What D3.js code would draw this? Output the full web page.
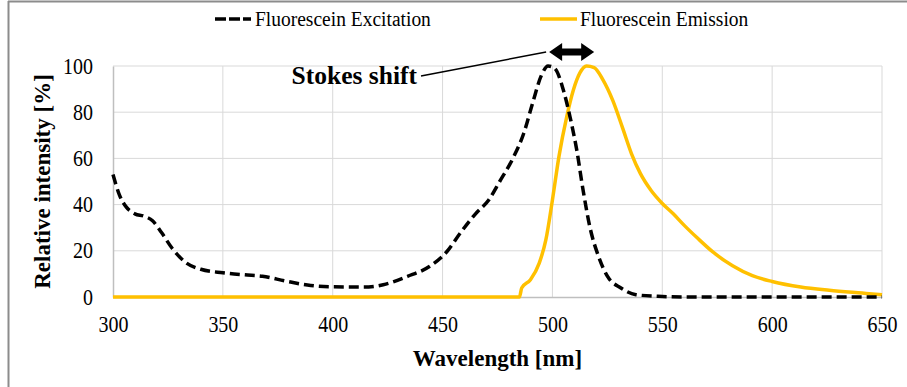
<!DOCTYPE html>
<html>
<head>
<meta charset="utf-8">
<script src="https://cdn.jsdelivr.net/npm/d3@7"></script>
<style>
  body { margin: 0; background: #fff; }
  text { font-family: "Liberation Serif", "Times New Roman", serif; fill: #000; }
</style>
</head>
<body>
<svg id="chart" width="907" height="387"></svg>
<script>
// wavelength [nm] / relative intensity [%]
var excitation = [
  [300, 53], [303, 44], [306, 39], [310, 36], [314, 35], [318, 33], [322, 28],
  [327, 21], [333, 15], [340, 12], [350, 10.5], [360, 9.6], [368, 9], [379, 6.8],
  [390, 5], [400, 4.4], [414, 4.3], [423, 5.3], [434, 8.9], [444, 13.2], [452, 19.7],
  [458, 27.6], [465, 36], [471, 42], [476, 50], [482, 60], [487, 71], [491, 84],
  [495, 96], [498, 100], [501, 99], [505, 89.5], [508, 78], [511, 64], [514, 46],
  [517, 30.5], [521, 17.5], [525, 9], [531, 4], [538, 1], [548, 0.3], [560, 0], [650, 0]
];
var emission = [
  [300, 0], [485, 0], [486, 3.9], [490, 7.5], [494, 14.7], [497, 24.7], [500, 42],
  [503, 61], [506.5, 78], [509.5, 89.5], [512.5, 97], [515.5, 100], [519, 99.3],
  [523, 94], [527.5, 85], [532, 73], [536, 62], [540, 53.5], [545, 46], [550, 40.5],
  [555, 36], [560, 31], [566, 25.5], [573, 19.5], [582, 13.5], [591, 9.2], [600, 6.7],
  [613, 4.3], [626, 2.9], [641, 1.7], [650, 1]
];
var xTicks = [300, 350, 400, 450, 500, 550, 600, 650];
var yTicks = [0, 20, 40, 60, 80, 100];
var seriesNames = ["Fluorescein Excitation", "Fluorescein Emission"];
var stokesPeaks = [498.5, 519];

var svg = d3.select("#chart");
var margin = {left: 113, right: 25, top: 66, bottom: 90};
var width = 907, height = 387;
var stretch = 1.12; // text in the picture is a bit taller than wide

var x = d3.scaleLinear().domain([300, 650]).range([margin.left, width - margin.right]);
var y = d3.scaleLinear().domain([0, 100]).range([height - margin.bottom, margin.top]);

// text placed at (tx, ty) and stretched vertically around its baseline
function tallText(g, tx, ty, size, str) {
    return g.append("text")
        .attr("transform", "translate(" + tx + "," + ty + ") scale(1," + stretch + ")")
        .attr("font-size", size)
        .text(str);
}

// outer frame (top and left only)
svg.append("line").attr("x1", 8).attr("x2", width).attr("y1", 1.5).attr("y2", 1.5)
    .attr("stroke", "#8c8c8c").attr("stroke-width", 2);
svg.append("line").attr("x1", 8.5).attr("x2", 8.5).attr("y1", 1).attr("y2", height)
    .attr("stroke", "#8c8c8c").attr("stroke-width", 2);

// grid
svg.append("g").selectAll("line").data(xTicks.slice(1)).join("line")
    .attr("x1", d => x(d)).attr("x2", d => x(d))
    .attr("y1", y(0)).attr("y2", y(100))
    .attr("stroke", "#d9d9d9").attr("stroke-width", 1);
svg.append("g").selectAll("line").data(yTicks.slice(1)).join("line")
    .attr("x1", x(300)).attr("x2", x(650))
    .attr("y1", d => y(d)).attr("y2", d => y(d))
    .attr("stroke", "#d9d9d9").attr("stroke-width", 1);

// axes
var xAxis = svg.append("g").attr("transform", "translate(0," + y(0) + ")")
    .call(d3.axisBottom(x).tickValues(xTicks).tickSize(0).tickPadding(17));
var yAxis = svg.append("g").attr("transform", "translate(" + x(300) + ",0)")
    .call(d3.axisLeft(y).tickValues(yTicks).tickSize(0).tickPadding(20));
[xAxis, yAxis].forEach(function (g) {
    g.select(".domain").attr("stroke", "#bfbfbf").attr("stroke-width", 1.5);
    g.selectAll("text").attr("font-size", 20).attr("fill", "#000")
        .attr("transform", "scale(1," + stretch + ")");
});

// axis titles
svg.append("text").attr("x", (x(300) + x(650)) / 2).attr("y", 366)
    .attr("text-anchor", "middle").attr("font-weight", "bold").attr("font-size", 23)
    .text("Wavelength [nm]");
svg.append("text").attr("transform", "translate(50," + (y(50)) + ") rotate(-90)")
    .attr("text-anchor", "middle").attr("font-weight", "bold").attr("font-size", 23)
    .text("Relative intensity [%]");

// curves
var line = d3.line().x(d => x(d[0])).y(d => y(d[1])).curve(d3.curveMonotoneX);
svg.append("path").datum(emission).attr("d", line)
    .attr("fill", "none").attr("stroke", "#ffc000").attr("stroke-width", 3.5)
    .attr("stroke-linejoin", "round");
svg.append("path").datum(excitation).attr("d", line)
    .attr("fill", "none").attr("stroke", "#000").attr("stroke-width", 3.5)
    .attr("stroke-dasharray", "10,5");

// legend
var legend = svg.append("g");
legend.append("line").attr("x1", 215).attr("x2", 251).attr("y1", 19).attr("y2", 19)
    .attr("stroke", "#000").attr("stroke-width", 3.5).attr("stroke-dasharray", "11,3");
tallText(legend, 255, 26, 19.5, seriesNames[0]);
legend.append("line").attr("x1", 540).attr("x2", 577).attr("y1", 19).attr("y2", 19)
    .attr("stroke", "#ffc000").attr("stroke-width", 3.5);
tallText(legend, 580, 26, 19.5, seriesNames[1]);

// stokes shift annotation
var ax1 = x(stokesPeaks[0]), ax2 = x(stokesPeaks[1]), ay = y(100) - 14;
svg.append("path")
    .attr("d", "M" + ax1 + "," + ay +
        " L" + (ax1 + 13) + "," + (ay - 9) + " L" + (ax1 + 13) + "," + (ay - 3.5) +
        " L" + (ax2 - 13) + "," + (ay - 3.5) + " L" + (ax2 - 13) + "," + (ay - 9) +
        " L" + ax2 + "," + ay +
        " L" + (ax2 - 13) + "," + (ay + 9) + " L" + (ax2 - 13) + "," + (ay + 3.5) +
        " L" + (ax1 + 13) + "," + (ay + 3.5) + " L" + (ax1 + 13) + "," + (ay + 9) + " Z")
    .attr("fill", "#000");
svg.append("line").attr("x1", 421).attr("y1", 76).attr("x2", ax1 - 3).attr("y2", ay)
    .attr("stroke", "#000").attr("stroke-width", 1.5);
svg.append("text").attr("x", 417).attr("y", 84).attr("text-anchor", "end")
    .attr("font-weight", "bold").attr("font-size", 25.5).text("Stokes shift");
</script>
</body>
</html>
